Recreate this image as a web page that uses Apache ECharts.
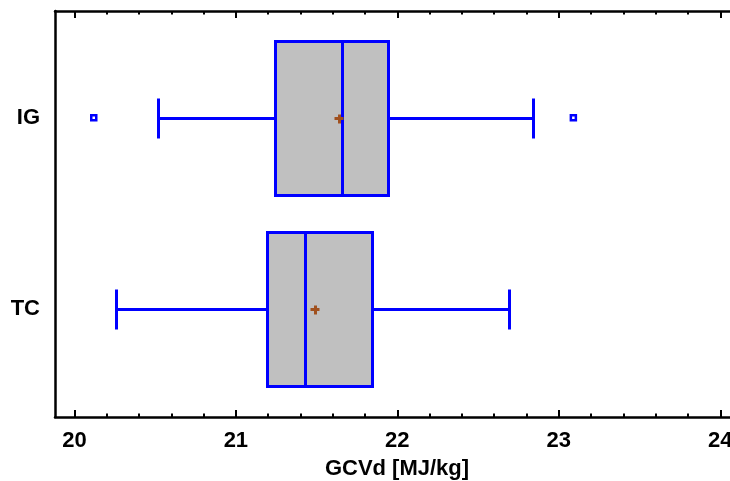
<!DOCTYPE html>
<html>
<head>
<meta charset="utf-8">
<title>GCVd box plot</title>
<script src="https://cdn.jsdelivr.net/npm/echarts@6/dist/echarts.min.js"></script>
<style>
  html, body { margin: 0; padding: 0; background: #fff; }
  #box { width: 730px; height: 481px; }
</style>
</head>
<body>
<div id="box"></div>
<script>
// --- data ---
var categories = ['TC', 'IG'];
var lowWhisker = [20.26, 20.52];
var q1 = [21.19, 21.24];
var median = [21.43, 21.66];
var q3 = [21.84, 21.94];
var highWhisker = [22.69, 22.84];
var means = [21.49, 21.64];
var outlierValues = [20.12, 23.09];
var outlierCats = ['IG', 'IG'];
var majorTicks = [20, 21, 22, 23, 24];
var minorTicks = [20.2, 20.4, 20.6, 20.8, 21.2, 21.4, 21.6, 21.8,
                  22.2, 22.4, 22.6, 22.8, 23.2, 23.4, 23.6, 23.8];

var X_MIN = 19.88, X_MAX = 24.06;
var FONT = 'Liberation Sans, Arial, sans-serif';

var boxData = [];
for (var i = 0; i < categories.length; i++) {
	boxData.push([i, lowWhisker[i], q1[i], median[i], q3[i], highWhisker[i], means[i]]);
}
var outlierData = [];
for (var j = 0; j < outlierValues.length; j++) {
	outlierData.push([outlierValues[j], categories.indexOf(outlierCats[j])]);
}

function renderBox(params, api) {
	var yc = Math.round(api.coord([api.value(1), api.value(0)])[1]) + 0.5;
	var band = api.size([0, 1])[1];
	var half = Math.round(band * 0.402);
	var cap = Math.round(band * 0.107);
	function px(dim) { return Math.round(api.coord([api.value(dim), api.value(0)])[0]) + 0.5; }
	var lo = px(1), a = px(2), md = px(3), b = px(4), hi = px(5), mn = px(6);
	var blue = { stroke: '#0000ff', lineWidth: 3 };
	var brown = { stroke: '#a0501e', lineWidth: 3 };
	function ln(x1, y1, x2, y2, st) {
		return { type: 'line', shape: { x1: x1, y1: y1, x2: x2, y2: y2 }, style: st };
	}
	return {
		type: 'group',
		children: [
			ln(lo, yc, a, yc, blue),
			ln(b, yc, hi, yc, blue),
			ln(lo, yc - cap, lo, yc + cap, blue),
			ln(hi, yc - cap, hi, yc + cap, blue),
			{
				type: 'rect',
				shape: { x: a, y: yc - half, width: b - a, height: half * 2 },
				style: { fill: '#c0c0c0', stroke: '#0000ff', lineWidth: 3 }
			},
			ln(md, yc - half, md, yc + half, blue),
			ln(mn - 5, yc, mn + 4, yc, brown),
			ln(mn, yc - 4, mn, yc + 5, brown)
		]
	};
}

var myChart = echarts.init(document.getElementById('box'));
myChart.setOption({
	animation: false,
	grid: [
		{ left: 55, right: 0, top: 11, bottom: 64, outerBoundsMode: 'none' },   // frame + major ticks
		{ left: 55, right: 0, top: 11, bottom: 64, outerBoundsMode: 'none' },   // minor ticks
		{ left: 55, right: 0, top: 22, bottom: 76, outerBoundsMode: 'none' }    // boxes
	],
	xAxis: [
		{
			gridIndex: 0, type: 'value', position: 'bottom', min: X_MIN, max: X_MAX,
			name: 'GCVd [MJ/kg]', nameLocation: 'middle', nameGap: 41,
			nameTextStyle: { color: '#000', fontSize: 22, fontWeight: 'bold', fontFamily: FONT, padding: [0, 0, 0, 9] },
			axisLine: { show: true, onZero: false, lineStyle: { color: '#000', width: 2.5 } },
			axisTick: { show: true, inside: true, length: 7, customValues: majorTicks, lineStyle: { color: '#000', width: 2 } },
			axisLabel: { show: true, margin: 13, customValues: majorTicks, color: '#000', fontSize: 22, fontWeight: 'bold', fontFamily: FONT },
			splitLine: { show: false }
		},
		{
			gridIndex: 0, type: 'value', position: 'top', min: X_MIN, max: X_MAX,
			axisLine: { show: true, onZero: false, lineStyle: { color: '#000', width: 2.5 } },
			axisTick: { show: true, inside: true, length: 7, customValues: majorTicks, lineStyle: { color: '#000', width: 2 } },
			axisLabel: { show: false },
			splitLine: { show: false }
		},
		{
			gridIndex: 1, type: 'value', position: 'bottom', min: X_MIN, max: X_MAX,
			axisLine: { show: false, onZero: false },
			axisTick: { show: true, inside: true, length: 3.5, customValues: minorTicks, lineStyle: { color: '#000', width: 2 } },
			axisLabel: { show: false },
			splitLine: { show: false }
		},
		{
			gridIndex: 1, type: 'value', position: 'top', min: X_MIN, max: X_MAX,
			axisLine: { show: false, onZero: false },
			axisTick: { show: true, inside: true, length: 3.5, customValues: minorTicks, lineStyle: { color: '#000', width: 2 } },
			axisLabel: { show: false },
			splitLine: { show: false }
		},
		{
			gridIndex: 2, type: 'value', min: X_MIN, max: X_MAX, show: false,
			splitLine: { show: false }
		}
	],
	yAxis: [
		{
			gridIndex: 0, type: 'value', min: 0, max: 1,
			axisLine: { show: true, onZero: false, lineStyle: { color: '#000', width: 2.5 } },
			axisTick: { show: false },
			axisLabel: { show: false },
			splitLine: { show: false }
		},
		{
			gridIndex: 1, type: 'value', min: 0, max: 1, show: false,
			splitLine: { show: false }
		},
		{
			gridIndex: 2, type: 'category', data: categories,
			axisLine: { show: false },
			axisTick: { show: false },
			axisLabel: { margin: 15, color: '#000', fontSize: 22, fontWeight: 'bold', fontFamily: FONT },
			splitLine: { show: false }
		}
	],
	series: [
		{
			name: 'box',
			type: 'custom',
			xAxisIndex: 4,
			yAxisIndex: 2,
			renderItem: renderBox,
			encode: { x: [1, 2, 3, 4, 5, 6], y: 0 },
			data: boxData
		},
		{
			name: 'outliers',
			type: 'scatter',
			xAxisIndex: 4,
			yAxisIndex: 2,
			symbol: 'rect',
			symbolSize: 5,
			itemStyle: { color: '#fff', borderColor: '#0000ff', borderWidth: 2.5, opacity: 1 },
			data: outlierData
		}
	]
});
</script>
</body>
</html>
